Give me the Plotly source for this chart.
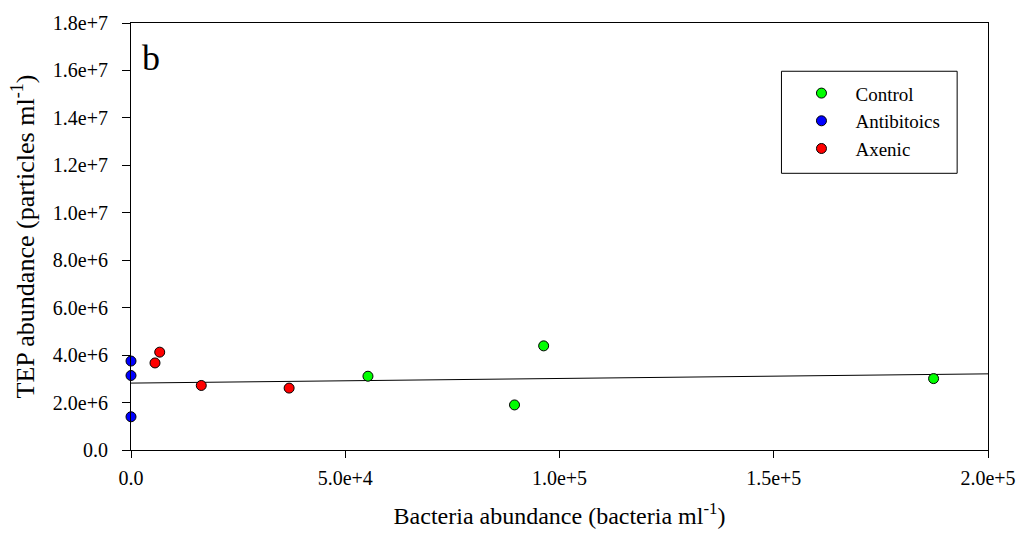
import plotly.graph_objects as go

# Data (bacteria ml^-1, TEP particles ml^-1)
control_x = [55300, 89500, 96300, 187300]
control_y = [3.11e6, 1.90e6, 4.39e6, 3.01e6]
antib_x = [0, 0, 0]
antib_y = [3.75e6, 3.14e6, 1.40e6]
axenic_x = [5600, 6700, 16400, 36900]
axenic_y = [3.67e6, 4.125e6, 2.72e6, 2.61e6]
fit_x = [0, 200000]
fit_y = [2.82e6, 3.21e6]

xticks = [0, 50000, 100000, 150000, 200000]
xticklabels = ["0.0", "5.0e+4", "1.0e+5", "1.5e+5", "2.0e+5"]
yticks = [i * 2e6 for i in range(10)]
yticklabels = ["0.0", "2.0e+6", "4.0e+6", "6.0e+6", "8.0e+6", "1.0e+7",
               "1.2e+7", "1.4e+7", "1.6e+7", "1.8e+7"]

FONT = "Liberation Serif, Times New Roman, serif"

fig = go.Figure()
fig.add_trace(go.Scatter(x=fit_x, y=fit_y, mode="lines",
                         line=dict(color="black", width=1), showlegend=False,
                         hoverinfo="skip"))
mk = dict(size=10, line=dict(color="black", width=1))
fig.add_trace(go.Scatter(x=control_x, y=control_y, mode="markers", name="Control",
                         marker=dict(color="#00ff00", **mk), cliponaxis=False))
fig.add_trace(go.Scatter(x=antib_x, y=antib_y, mode="markers", name="Antibitoics",
                         marker=dict(color="#0000ff", **mk), cliponaxis=False))
fig.add_trace(go.Scatter(x=axenic_x, y=axenic_y, mode="markers", name="Axenic",
                         marker=dict(color="#ff0000", **mk), cliponaxis=False))

fig.update_layout(
    width=1028, height=539,
    margin=dict(l=131, r=33, t=18, b=89),
    paper_bgcolor="white", plot_bgcolor="white",
    font=dict(family=FONT, size=20, color="black"),
    showlegend=True,
    legend=dict(x=0.766, y=0.880, xanchor="left", yanchor="top",
                borderwidth=0, bgcolor="rgba(0,0,0,0)",
                font=dict(family=FONT, size=19), itemwidth=58,
                tracegroupgap=0),
    shapes=[dict(type="rect", xref="paper", yref="paper",
                 x0=0.759, x1=0.964, y0=0.648, y1=0.887,
                 line=dict(color="black", width=1), fillcolor="rgba(0,0,0,0)")],
    xaxis=dict(range=[0, 200000], tickvals=xticks, ticktext=xticklabels,
               showgrid=False, zeroline=False, showline=True, linecolor="black",
               linewidth=1, mirror=True, ticks="outside", ticklen=7,
               tickcolor="black", ticklabelstandoff=3,
               title=dict(text="Bacteria abundance (bacteria ml<sup>-1</sup>)",
                          font=dict(size=24), standoff=19)),
    yaxis=dict(range=[0, 1.8e7], tickvals=yticks, ticktext=yticklabels,
               showgrid=False, zeroline=False, showline=True, linecolor="black",
               linewidth=1, mirror=True, ticks="outside", ticklen=8,
               tickcolor="black", ticklabelstandoff=10,
               title=dict(text="TEP abundance (particles ml<sup>-1</sup>)",
                          font=dict(size=26), standoff=10)),
    annotations=[dict(text="b", x=0.011, y=0.97, xref="paper", yref="paper",
                      xanchor="left", yanchor="top", showarrow=False,
                      font=dict(family=FONT, size=36))],
)

fig.write_html("out.html")
